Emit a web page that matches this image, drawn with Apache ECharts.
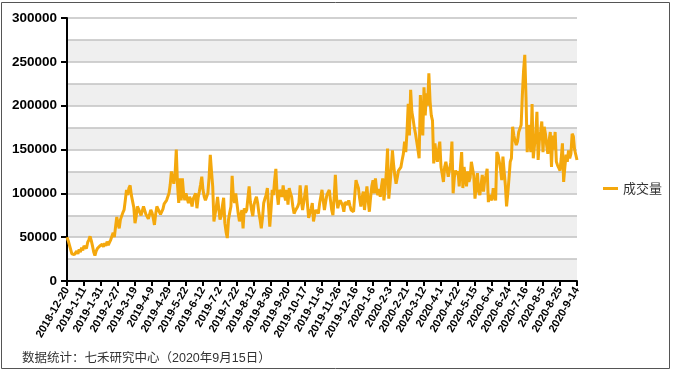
<!DOCTYPE html>
<html>
<head>
<meta charset="utf-8">
<script src="https://cdn.jsdelivr.net/npm/echarts@6/dist/echarts.min.js"></script>
<style>
html,body{margin:0;padding:0;background:#fff;}
#chart{width:673px;height:373px;}
</style>
</head>
<body>
<div id="chart"></div>
<script>
// Trading-day calendar: start/end dates and closed days (Chinese market holidays)
var startDate = '2018-12-20';
var endDate = '2020-9-14';
var closedDays = ['2018-12-31','2019-1-1','2019-2-4','2019-2-5','2019-2-6','2019-2-7','2019-2-8',
  '2019-4-5','2019-5-1','2019-5-2','2019-5-3','2019-6-7','2019-8-5','2019-9-13',
  '2019-10-1','2019-10-2','2019-10-3','2019-10-4','2019-10-7','2020-1-1','2020-1-24',
  '2020-1-27','2020-1-28','2020-1-29','2020-1-30','2020-1-31','2020-4-6','2020-5-1',
  '2020-5-4','2020-5-5','2020-6-25','2020-6-26'];

var seriesName = '成交量';
// daily volume, in thousands
var volumeK = [
50,46,44,36,31,33,30,29,34,31,36,33,38,35,
40,38,37,44,47,51,46,40,33,29,34,37,35,40,38,
42,39,43,40,45,41,44,47,46,55,50,62,73,65,
60,70,74,78,81,92,104,98,106,109,98,96,84,66,74,
85,82,78,75,80,85,84,76,74,71,76,81,78,72,
64,76,85,82,80,76,75,82,88,86,92,96,100,110,125,
118,111,122,150,110,89,117,92,117,100,92,100,94,89,
96,92,85,94,97,100,83,95,102,110,119,104,96,92,96,
100,118,144,125,108,68,68,85,96,82,70,74,86,95,
66,56,49,70,78,85,120,96,89,100,88,77,68,75,81,
60,83,78,81,95,108,90,81,74,87,92,96,89,78,
70,60,72,89,94,98,106,84,62,81,104,98,115,128,100,
87,104,100,96,109,98,92,104,87,106,100,96,85,77,
80,81,85,89,109,92,81,90,100,109,88,72,74,82,89,
68,76,81,79,77,88,96,104,92,81,90,98,101,104,
92,81,75,95,121,95,83,89,92,94,86,79,90,88,87,
92,86,81,80,79,98,115,110,106,94,85,95,102,81,
95,108,92,79,95,108,115,100,117,104,98,105,96,108,117,
92,105,125,151,94,110,128,149,132,120,111,118,126,128,
130,138,145,159,147,170,202,166,218,193,185,175,168,159,150,
140,212,180,166,221,189,214,200,237,205,189,183,134,157,
145,136,150,159,130,122,113,130,136,134,119,127,135,159,100,
118,126,122,125,108,130,147,106,130,118,108,125,113,118,
136,138,120,94,108,123,102,98,110,121,102,115,120,128,90,
98,95,92,106,98,92,147,144,136,128,115,142,125,109,
85,100,117,136,140,176,166,160,155,159,170,174,178,212,240,
258,210,147,178,160,147,202,140,155,166,193,138,160,170,
182,147,176,168,155,145,160,170,130,166,150,170,136,132,129,
126,140,157,113,130,144,136,149,140,145,168,165,150,144,
138
];
var yTickLabels = [0,50000,100000,150000,200000,250000,300000];
var sourceText = '数据统计：七禾研究中心（2020年9月15日）';

function fmt(d){ return d.getUTCFullYear()+'-'+(d.getUTCMonth()+1)+'-'+d.getUTCDate(); }
function parse(s){ var p=s.split('-'); return Date.UTC(+p[0],+p[1]-1,+p[2]); }
var categories = [];
(function(){
  var closed = {}; closedDays.forEach(function(s){closed[s]=1;});
  for (var t=parse(startDate); t<=parse(endDate); t+=86400000){
    var d=new Date(t), wd=d.getUTCDay();
    if (wd===0||wd===6) continue;
    var s=fmt(d); if (closed[s]) continue;
    categories.push(s);
  }
})();
var values = volumeK.map(function(v){return v*1000;});

var chart = echarts.init(document.getElementById('chart'), null, {renderer:'canvas'});
var font = 'Liberation Sans, Arial, sans-serif';
chart.setOption({
  animation:false,
  backgroundColor:'#fff',
  grid:{left:67,right:96,top:18,bottom:92,containLabel:false},
  legend:{
    data:[{name:seriesName, icon:'rect'}],
    left:598, top:177, itemWidth:15, itemHeight:3, itemGap:10,
    textStyle:{fontSize:13, color:'#333', fontFamily:'Noto Sans CJK SC, sans-serif'}
  },
  xAxis:{
    type:'category', data:categories, boundaryGap:false,
    axisLine:{lineStyle:{color:'#000',width:2}},
    axisTick:{interval:13,length:5,lineStyle:{color:'#000',width:2}},
    axisLabel:{interval:13,rotate:60,fontSize:11,fontWeight:'bold',color:'#000',margin:7,fontFamily:font},
    splitLine:{show:false}
  },
  yAxis:[{
    type:'value', min:0, max:300000, interval:50000,
    axisLine:{show:true,lineStyle:{color:'#000',width:2}},
    axisTick:{show:true,length:6,lineStyle:{color:'#000',width:2}},
    axisLabel:{fontSize:13.5,fontWeight:'bold',color:'#000',margin:10,fontFamily:font,
      formatter:function(v){return yTickLabels.indexOf(v)>=0?String(v):'';}},
    splitLine:{show:false}
  },{
    type:'value', min:0, max:300000, interval:25000, position:'left',
    axisLine:{show:false}, axisTick:{show:false}, axisLabel:{show:false},
    splitLine:{show:true,lineStyle:{color:'#c2c2c2',width:1.5}},
    splitArea:{show:true,areaStyle:{color:['#efefef','#ffffff']}}
  }],
  graphic:[
    {type:'rect',shape:{x:1.5,y:2.5,width:668,height:366},style:{fill:null,stroke:'#555',lineWidth:1},z:100},
    {type:'text',left:22,top:352,style:{text:sourceText,fontSize:12.5,fill:'#333',fontFamily:'Liberation Sans, Noto Sans CJK SC, sans-serif'}}
  ],
  series:[{
    name:seriesName, type:'line', data:values, yAxisIndex:0,
    showSymbol:false, symbol:'none',
    lineStyle:{color:'#F4A80D',width:3}, itemStyle:{color:'#F4A80D'}
  }]
});
</script>
</body>
</html>
